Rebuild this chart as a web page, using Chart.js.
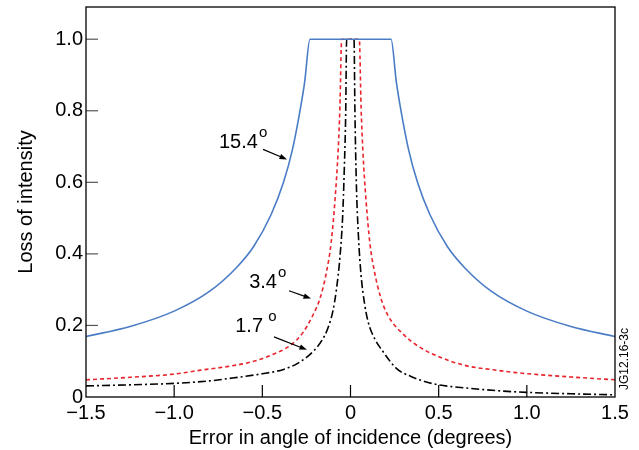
<!DOCTYPE html>
<html>
<head>
<meta charset="utf-8">
<script src="https://cdn.jsdelivr.net/npm/chart.js@4"></script>
<style>
  html, body { margin: 0; padding: 0; background: #fff; }
</style>
</head>
<body>
<canvas id="chart" width="639" height="450"></canvas>
<script>
// values
const xBlue = [-1.5, -1.25, -1.0, -0.8, -0.65, -0.55, -0.45, -0.38, -0.33, -0.29, -0.26, -0.23,
  0.23, 0.26, 0.29, 0.33, 0.38, 0.45, 0.55, 0.65, 0.8, 1.0, 1.25, 1.5];
const yBlue = [0.169, 0.197, 0.24, 0.295, 0.36, 0.42, 0.51, 0.6, 0.69, 0.79, 0.88, 1.0,
  1.0, 0.88, 0.79, 0.69, 0.6, 0.51, 0.42, 0.36, 0.295, 0.24, 0.197, 0.169];

const xRed = [-1.5, -1.25, -1.0, -0.85, -0.7, -0.57, -0.47, -0.34, -0.27, -0.21, -0.17, -0.134, -0.11, -0.088, -0.07, -0.06, -0.05,
  0.05, 0.06, 0.07, 0.088, 0.11, 0.134, 0.17, 0.21, 0.3, 0.39, 0.52, 0.66, 0.81, 0.94, 1.25, 1.5];
const yRed = [0.048, 0.055, 0.064, 0.075, 0.085, 0.097, 0.113, 0.145, 0.18, 0.232, 0.28, 0.355, 0.43, 0.55, 0.69, 0.81, 1.0,
  1.0, 0.81, 0.69, 0.55, 0.43, 0.355, 0.28, 0.23, 0.175, 0.14, 0.109, 0.087, 0.076, 0.068, 0.056, 0.048];

const xBlack = [-1.5, -1.25, -1.0, -0.8, -0.67, -0.5, -0.38, -0.3, -0.21, -0.16, -0.13, -0.1, -0.08, -0.06, -0.045, -0.035, -0.027, -0.022,
  0.02, 0.025, 0.033, 0.045, 0.06, 0.08, 0.1, 0.14, 0.18, 0.26, 0.34, 0.43, 0.5, 0.66, 0.85, 1.0, 1.25, 1.5];
const yBlack = [0.031, 0.034, 0.038, 0.045, 0.053, 0.065, 0.077, 0.094, 0.128, 0.16, 0.19, 0.24, 0.3, 0.39, 0.5, 0.64, 0.8, 1.0,
  1.0, 0.8, 0.6, 0.45, 0.34, 0.26, 0.21, 0.16, 0.13, 0.08, 0.058, 0.042, 0.034, 0.025, 0.017, 0.013, 0.009, 0.006];

const xTicks = [-1.5, -1.0, -0.5, 0, 0.5, 1.0, 1.5];
const yTicks = [0, 0.2, 0.4, 0.6, 0.8, 1.0];

// curve labels: text, anchor (data units), arrow from/to (data units)
const notes = [
  { text: "15.4", sup: "o", x: -0.525, y: 0.71, ax: -0.496, ay: 0.692, bx: -0.36, by: 0.664 },
  { text: "3.4", sup: "o", x: -0.417, y: 0.319, ax: -0.349, ay: 0.297, bx: -0.224, by: 0.275 },
  { text: "1.7", sup: " o", x: -0.496, y: 0.196, ax: -0.434, ay: 0.168, bx: -0.247, by: 0.132 },
];

const FONT = "'Liberation Sans', Arial, sans-serif";

function pts(xs, ys) {
  return xs.map((x, i) => ({ x: x, y: ys[i] }));
}

function fmt(v) {
  if (v === 0) return "0";
  return v.toFixed(1).replace("-", "\u2212");
}

const framePlugin = {
  id: "frame",
  afterDraw(chart) {
    const ctx = chart.ctx;
    const a = chart.chartArea;
    const xs = chart.scales.x;
    const ys = chart.scales.y;
    ctx.save();

    // inward tick marks
    ctx.lineWidth = 1.2;
    ctx.strokeStyle = "#555";
    yTicks.forEach((v) => {
      if (v === 0) return;
      const py = ys.getPixelForValue(v);
      ctx.beginPath();
      ctx.moveTo(a.left, py);
      ctx.lineTo(a.left + 12, py);
      ctx.stroke();
    });
    ctx.strokeStyle = "#000";
    xTicks.forEach((v) => {
      if (v === xTicks[0] || v === xTicks[xTicks.length - 1]) return;
      const px = xs.getPixelForValue(v);
      ctx.beginPath();
      ctx.moveTo(px, a.bottom);
      ctx.lineTo(px, a.bottom - 12);
      ctx.stroke();
    });

    // box
    ctx.lineWidth = 1.3;
    ctx.strokeStyle = "#000";
    ctx.strokeRect(a.left, a.top, a.right - a.left, a.bottom - a.top);

    // labels with arrows
    ctx.fillStyle = "#000";
    notes.forEach((n) => {
      const tx = xs.getPixelForValue(n.x);
      const ty = ys.getPixelForValue(n.y);
      ctx.font = "20px " + FONT;
      ctx.textAlign = "right";
      ctx.textBaseline = "middle";
      ctx.fillText(n.text, tx, ty);
      ctx.font = "15px " + FONT;
      ctx.textAlign = "left";
      ctx.fillText(n.sup, tx + 1, ty - 10);

      const x1 = xs.getPixelForValue(n.ax), y1 = ys.getPixelForValue(n.ay);
      const x2 = xs.getPixelForValue(n.bx), y2 = ys.getPixelForValue(n.by);
      const ang = Math.atan2(y2 - y1, x2 - x1);
      ctx.lineWidth = 1.2;
      ctx.beginPath();
      ctx.moveTo(x1, y1);
      ctx.lineTo(x2 - 5 * Math.cos(ang), y2 - 5 * Math.sin(ang));
      ctx.stroke();
      ctx.beginPath();
      ctx.moveTo(x2, y2);
      ctx.lineTo(x2 - 8 * Math.cos(ang - 0.35), y2 - 8 * Math.sin(ang - 0.35));
      ctx.lineTo(x2 - 8 * Math.cos(ang + 0.35), y2 - 8 * Math.sin(ang + 0.35));
      ctx.closePath();
      ctx.fill();
    });

    // figure code on the right edge
    ctx.font = "12px " + FONT;
    ctx.textAlign = "center";
    ctx.textBaseline = "middle";
    ctx.translate(625, 359);
    ctx.rotate(-Math.PI / 2);
    ctx.fillText("JG12.16-3c", 0, 0);
    ctx.restore();
  },
};

new Chart(document.getElementById("chart"), {
  type: "line",
  data: {
    datasets: [
      {
        label: "15.4",
        data: pts(xBlue, yBlue),
        borderColor: "#4a7cc6",
        borderWidth: 1.6,
      },
      {
        label: "3.4",
        data: pts(xRed, yRed),
        borderColor: "#e8242c",
        borderWidth: 1.6,
        borderDash: [4, 3],
      },
      {
        label: "1.7",
        data: pts(xBlack, yBlack),
        borderColor: "#000",
        borderWidth: 1.6,
        borderDash: [8, 3, 2, 3],
      },
    ],
  },
  options: {
    responsive: false,
    animation: false,
    layout: { padding: { top: 7, right: 24, left: 0, bottom: 0 } },
    elements: {
      point: { radius: 0 },
      line: { cubicInterpolationMode: "monotone", fill: false },
    },
    plugins: { legend: { display: false }, tooltip: { enabled: false } },
    scales: {
      x: {
        type: "linear",
        min: -1.5,
        max: 1.5,
        afterBuildTicks: (s) => { s.ticks = xTicks.map((v) => ({ value: v })); },
        afterFit: (s) => { s.height = 53; s.paddingLeft = 0; s.paddingRight = 0; },
        grid: { display: false, drawTicks: false },
        border: { display: false },
        ticks: {
          padding: 4,
          maxRotation: 0,
          color: "#000",
          font: { family: FONT, size: 20 },
          callback: (v) => fmt(v),
        },
        title: {
          display: true,
          text: "Error in angle of incidence (degrees)",
          color: "#000",
          font: { family: FONT, size: 20 },
          padding: { top: 0, bottom: 0 },
        },
      },
      y: {
        min: 0,
        max: 1.09,
        afterBuildTicks: (s) => { s.ticks = yTicks.map((v) => ({ value: v })); },
        afterFit: (s) => { s.width = 86; s.paddingTop = 0; s.paddingBottom = 0; },
        grid: { display: false, drawTicks: false },
        border: { display: false },
        ticks: {
          padding: 3,
          color: "#000",
          font: { family: FONT, size: 20 },
          callback: (v) => fmt(v),
        },
        title: {
          display: true,
          text: "Loss of intensity",
          color: "#000",
          font: { family: FONT, size: 20 },
          padding: { top: 14, bottom: 0 },
        },
      },
    },
  },
  plugins: [framePlugin],
});
</script>
</body>
</html>
